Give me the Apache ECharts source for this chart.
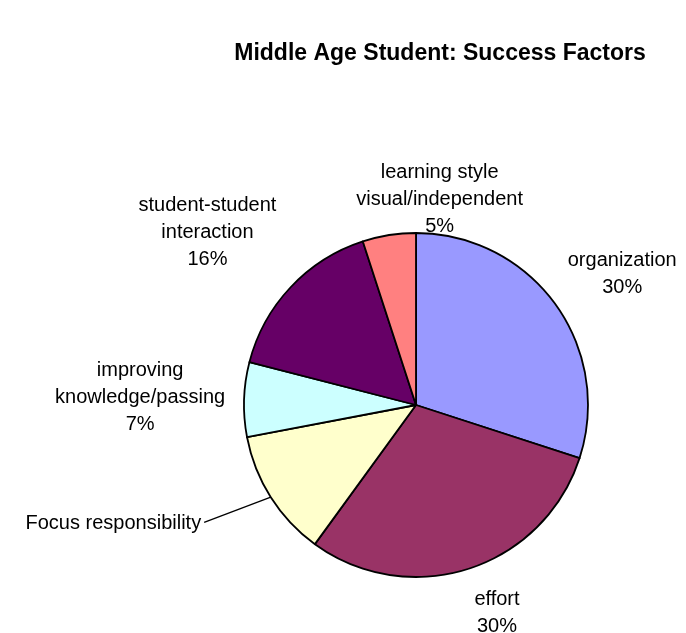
<!DOCTYPE html>
<html>
<head>
<meta charset="utf-8">
<title>Middle Age Student: Success Factors</title>
<script src="https://cdn.jsdelivr.net/npm/echarts@6/dist/echarts.min.js"></script>
<style>
  html, body { margin: 0; padding: 0; background: #ffffff; }
  #main { width: 686px; height: 633px; }
</style>
</head>
<body>
<div id="main"></div>
<script>
// Survey categories, clockwise from 12 o'clock
const categories = [
  'organization',
  'effort',
  'Focus responsibility',
  'improving\nknowledge/passing',
  'student-student\ninteraction',
  'learning style\nvisual/independent'
];
// Share of responses (percent)
const values = [30, 30, 12, 7, 16, 5];
// Slice fills
const colors = ['#9999FF', '#993366', '#FFFFCC', '#CCFFFF', '#660066', '#FF8080'];

// Pie geometry
const CX = 416, CY = 405, R = 172;

// Mid angle of every slice (radians, clockwise from the top)
const total = values.reduce((a, b) => a + b, 0);
const midAngles = [];
let acc = 0;
values.forEach(v => { midAngles.push((acc + v / 2) / total * 2 * Math.PI); acc += v; });

// Label placement: radial distance from the centre plus a fine shift
const labelDist = [245, 220, 245, 276, 271, 207];
const labelShift = [[8, 13], [13, -1], [-8, -13], [0, 1], [-11, 13], [56, -1]];

const chart = echarts.init(document.getElementById('main'), null, { renderer: 'canvas' });

const data = categories.map((name, i) => {
  const item = {
    name: name,
    value: values[i],
    itemStyle: { color: colors[i] }
  };
  if (i === 2) {
    item.label = { formatter: '{b}' };
    item.labelLine = { show: true, lineStyle: { color: '#000', width: 1.3 } };
  }
  return item;
});

chart.setOption({
  animation: false,
  backgroundColor: '#ffffff',
  title: {
    text: 'Middle Age Student: Success Factors',
    left: 435,
    top: 37,
    textAlign: 'center',
    textStyle: {
      fontFamily: 'Liberation Sans, Arial, sans-serif',
      fontSize: 23,
      fontWeight: 'bold',
      color: '#000'
    }
  },
  series: [{
    type: 'pie',
    center: [CX, CY],
    radius: R,
    startAngle: 90,
    clockwise: true,
    avoidLabelOverlap: false,
    itemStyle: { borderColor: '#000', borderWidth: 1.8 },
    emphasis: { disabled: true },
    label: {
      show: true,
      position: 'outside',
      formatter: '{b}\n{d}%',
      fontFamily: 'Liberation Sans, Arial, sans-serif',
      fontSize: 20,
      lineHeight: 27,
      color: '#000'
    },
    labelLine: { show: false },
    labelLayout: function (p) {
      const i = p.dataIndex, a = midAngles[i];
      const x = CX + labelDist[i] * Math.sin(a) + labelShift[i][0];
      const y = CY - labelDist[i] * Math.cos(a) + labelShift[i][1];
      const out = {
        x: x,
        y: y,
        align: i === 2 ? 'right' : 'center',
        verticalAlign: 'middle'
      };
      if (i === 2) {
        const ex = CX + R * Math.sin(a), ey = CY - R * Math.cos(a);
        out.labelLinePoints = [[ex, ey], [x + 3, y - 1], [x + 3, y - 1]];
      }
      return out;
    },
    data: data
  }]
});
</script>
</body>
</html>
